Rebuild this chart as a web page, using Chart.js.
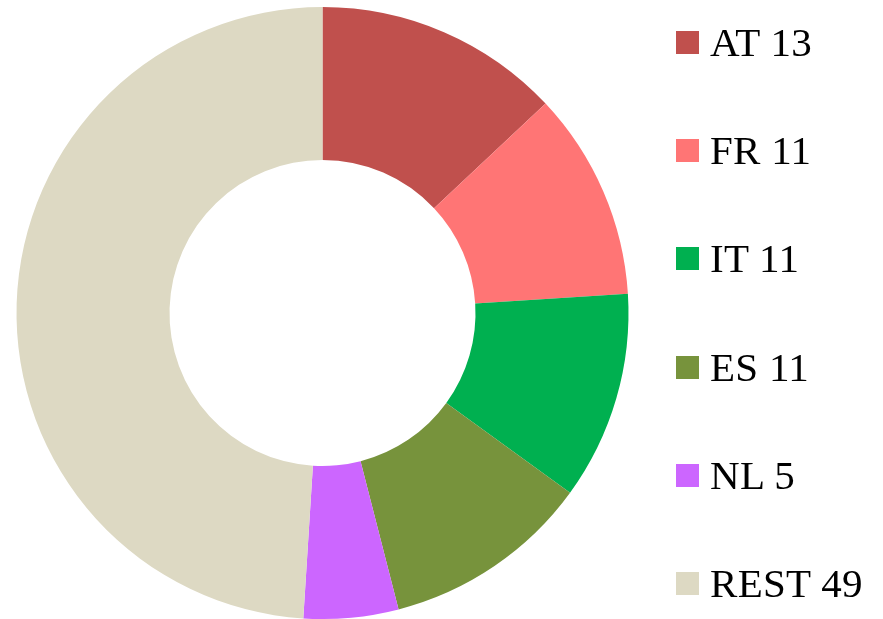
<!DOCTYPE html>
<html>
<head>
<meta charset="utf-8">
<script src="https://cdn.jsdelivr.net/npm/chart.js@4/dist/chart.umd.min.js"></script>
<style>
  html, body { margin: 0; padding: 0; background: #fff; }
  #wrap { position: relative; width: 883px; height: 619px; overflow: hidden; }
  #donut { position: absolute; left: 0; top: 0; }
  #legend {
    position: absolute; left: 676px; top: -11.5px;
    margin: 0; padding: 0; list-style: none;
    font-family: "Liberation Serif", serif; font-size: 41px; color: #000;
  }
  #legend li { display: flex; align-items: center; height: 108.2px; }
  #legend .box { width: 23px; height: 23px; margin-right: 11px; flex: none; }
  #legend .txt { line-height: 41px; white-space: nowrap; letter-spacing: 0.3px; }
</style>
</head>
<body>
<div id="wrap">
  <canvas id="donut" width="883" height="619"></canvas>
  <ul id="legend"></ul>
</div>
<script>
// Doughnut: country shares

const labels = ['AT', 'FR', 'IT', 'ES', 'NL', 'REST']
const values = [13, 11, 11, 11, 5, 49]
const colors = ['#C0504D', '#FF7575', '#00B050', '#77933C', '#CC66FF', '#DDD9C3']

function drawDoughnut() {
  const data = {
    labels: labels,
    datasets: [
      {
        label: 'Share',
        data: values,
        backgroundColor: colors,
        borderWidth: 0,
      },
    ],
  }

  const config = {
    type: 'doughnut',
    data: data,
    options: {
      responsive: false,
      animation: false,
      cutout: '50%',
      layout: {
        padding: { top: 7, left: 16, right: 254, bottom: 0 },
      },
      plugins: {
        legend: { display: false },
        tooltip: { enabled: false },
      },
    },
  }

  const myChart = new Chart(document.getElementById('donut'), config)

  // legend built from the chart's own data
  const ul = document.getElementById('legend')
  myChart.data.labels.forEach((lab, i) => {
    const li = document.createElement('li')
    const box = document.createElement('span')
    box.className = 'box'
    box.style.background = myChart.data.datasets[0].backgroundColor[i]
    const txt = document.createElement('span')
    txt.className = 'txt'
    txt.textContent = lab + ' ' + myChart.data.datasets[0].data[i]
    li.appendChild(box)
    li.appendChild(txt)
    ul.appendChild(li)
  })
}

drawDoughnut()
</script>
</body>
</html>
